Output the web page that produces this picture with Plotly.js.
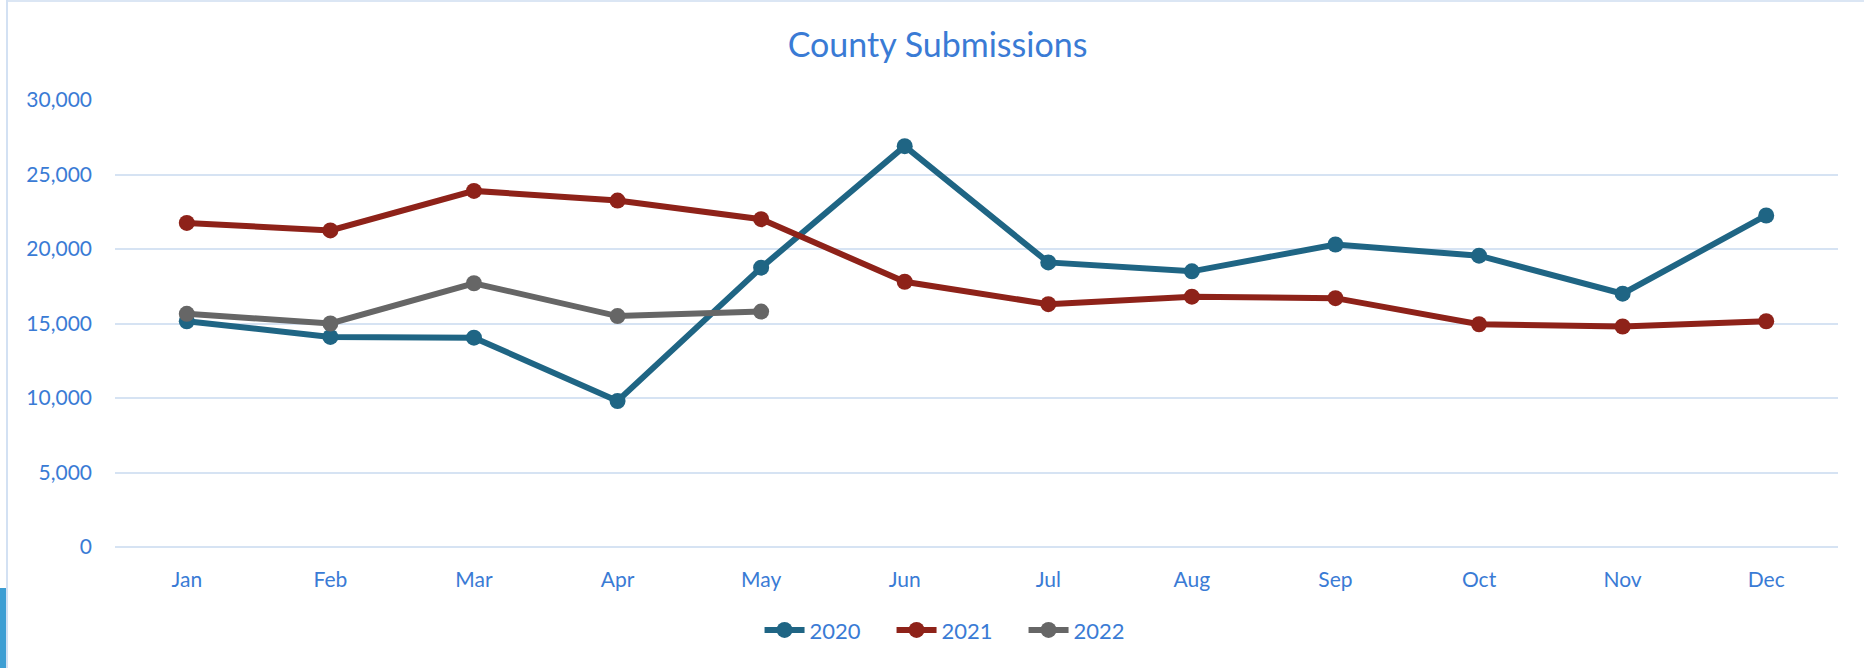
<!DOCTYPE html>
<html>
<head>
<meta charset="utf-8">
<script src="https://cdn.plot.ly/plotly-3.0.1.min.js"></script>
<style>
  html, body { margin: 0; padding: 0; background: #fff; }
  #cadre { position: relative; width: 1864px; height: 668px; overflow: hidden; }
  #graph { position: absolute; left: 0; top: 0; width: 1864px; height: 668px; }
  /* bordure de la zone graphique (comme dans le tableur) */
  #bordHaut { position: absolute; left: 7px; top: 0; width: 1857px; height: 2px; background: #dbe6f4; }
  #bordGauche { position: absolute; left: 6px; top: 0; width: 2px; height: 668px; background: #d3e1f3; }
  #barreBleue { position: absolute; left: 0; top: 588px; width: 6px; height: 80px; background: #3d9ed3; }
</style>
</head>
<body>
<div id="cadre">
  <div id="graph"></div>
  <div id="bordHaut"></div>
  <div id="bordGauche"></div>
  <div id="barreBleue"></div>
</div>
<script>
// données
var mois = ['Jan', 'Feb', 'Mar', 'Apr', 'May', 'Jun', 'Jul', 'Aug', 'Sep', 'Oct', 'Nov', 'Dec'];
var annees = ['2020', '2021', '2022'];
var val2020 = [15150, 14100, 14050, 9800, 18750, 26900, 19100, 18500, 20300, 19550, 17000, 22250];
var val2021 = [21750, 21250, 23900, 23250, 22000, 17800, 16300, 16800, 16700, 14950, 14800, 15150];
var val2022 = [15650, 15000, 17700, 15500, 15800, null, null, null, null, null, null, null];
var yTicks = [0, 5000, 10000, 15000, 20000, 25000, 30000];
var yTickText = ['0', '5,000', '10,000', '15,000', '20,000', '25,000', '30,000'];

var couleurs = ['#1f6584', '#8e2219', '#666666'];
var bleuTexte = '#3a7bd5';

function serie(nom, valeurs, couleur) {
	return {
		x: mois,
		y: valeurs,
		name: nom,
		type: 'scatter',
		mode: 'lines+markers',
		connectgaps: false,
		line: {color: couleur, width: 6},
		marker: {color: couleur, size: 16}
	};
}

var data = [
	serie(annees[0], val2020, couleurs[0]),
	serie(annees[1], val2021, couleurs[1]),
	serie(annees[2], val2022, couleurs[2])
];

var layout = {
	width: 1864,
	height: 668,
	paper_bgcolor: 'rgba(0,0,0,0)',
	plot_bgcolor: '#ffffff',
	margin: {l: 115, r: 26, t: 100, b: 121},
	font: {family: 'Lato, "Open Sans", sans-serif', color: bleuTexte, size: 21},
	title: {
		text: 'County Submissions',
		font: {family: 'Lato, sans-serif', size: 34, color: bleuTexte},
		xref: 'container', x: 0.503, xanchor: 'center',
		yref: 'container', y: 0.933, yanchor: 'middle'
	},
	xaxis: {
		type: 'category',
		range: [-0.5, 11.5],
		showgrid: false,
		showline: false,
		zeroline: false,
		ticks: '',
		ticklabelstandoff: 18,
		tickfont: {size: 21, color: bleuTexte}
	},
	yaxis: {
		range: [0, 30000],
		tickvals: yTicks,
		ticktext: yTickText,
		showgrid: true,
		gridcolor: '#d6e3f3',
		gridwidth: 2,
		zeroline: true,
		zerolinecolor: '#d6e3f3',
		zerolinewidth: 2,
		showline: false,
		ticks: '',
		ticklabelstandoff: 22,
		tickfont: {size: 21, color: bleuTexte}
	},
	showlegend: true,
	legend: {
		orientation: 'h',
		x: 0.489, xanchor: 'center',
		y: -0.186, yanchor: 'middle',
		font: {size: 22, color: bleuTexte},
		itemwidth: 40,
		entrywidth: 77,
		entrywidthmode: 'pixels',
		bgcolor: 'rgba(0,0,0,0)'
	}
};

Plotly.newPlot('graph', data, layout, {displayModeBar: false, responsive: false, displaylogo: false});
</script>
</body>
</html>
